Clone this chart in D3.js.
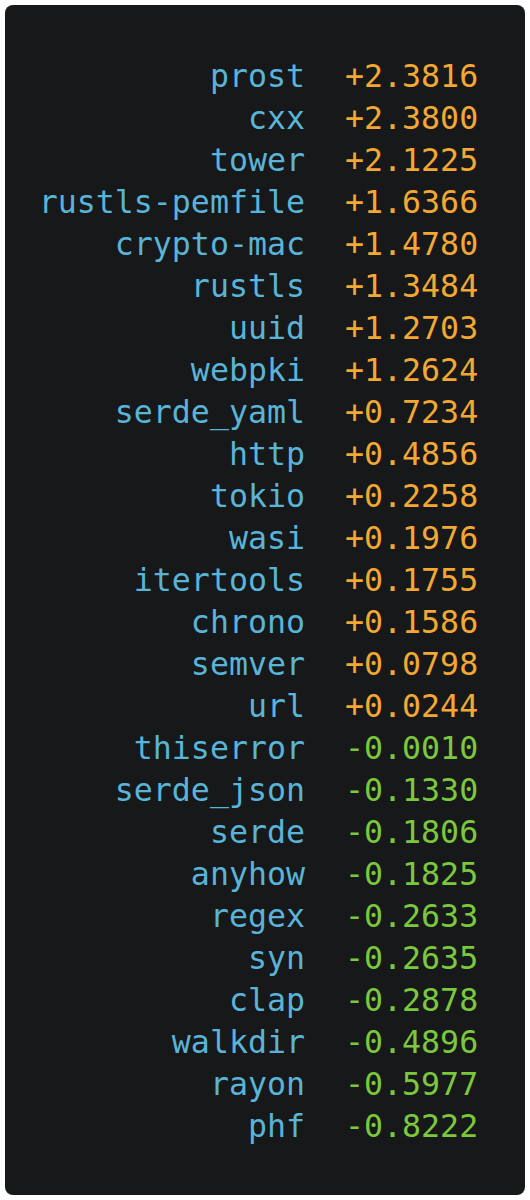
<!DOCTYPE html>
<html>
<head>
<meta charset="utf-8">
<script src="https://cdn.jsdelivr.net/npm/d3@7"></script>
<style>
  body { margin: 0; background: #ffffff; }
</style>
</head>
<body>
<div id="chart"></div>
<script>
// crate names and their score changes, top to bottom
var crates = ["prost", "cxx", "tower", "rustls-pemfile", "crypto-mac", "rustls", "uuid", "webpki",
  "serde_yaml", "http", "tokio", "wasi", "itertools", "chrono", "semver", "url", "thiserror",
  "serde_json", "serde", "anyhow", "regex", "syn", "clap", "walkdir", "rayon", "phf"];
var deltas = ["+2.3816", "+2.3800", "+2.1225", "+1.6366", "+1.4780", "+1.3484", "+1.2703", "+1.2624",
  "+0.7234", "+0.4856", "+0.2258", "+0.1976", "+0.1755", "+0.1586", "+0.0798", "+0.0244", "-0.0010",
  "-0.1330", "-0.1806", "-0.1825", "-0.2633", "-0.2635", "-0.2878", "-0.4896", "-0.5977", "-0.8222"];

var width = 530, height = 1200;
var svg = d3.select("#chart").append("svg")
    .attr("width", width)
    .attr("height", height);

// dark card
svg.append("rect")
    .attr("x", 5).attr("y", 5)
    .attr("width", 520).attr("height", 1190)
    .attr("rx", 8)
    .attr("fill", "#17181a");

// one row per crate
var y = d3.scalePoint()
    .domain(crates)
    .range([87, 87 + 42 * (crates.length - 1)]);

var rows = svg.selectAll(".row").data(crates).enter()
    .append("g")
        .attr("class", "row")
        .attr("transform", function(d){ return "translate(0," + y(d) + ")"; });

rows.append("text")
    .attr("x", 305)
    .attr("text-anchor", "end")
    .attr("font-family", "DejaVu Sans Mono, monospace")
    .attr("font-size", 31.6)
    .attr("fill", "#5ab4d8")
    .text(function(d){ return d; });

rows.append("text")
    .attr("x", 345)
    .attr("font-family", "DejaVu Sans Mono, monospace")
    .attr("font-size", 31.6)
    .attr("fill", function(d, i){ return deltas[i][0] === "+" ? "#f2a833" : "#7cc83c"; })
    .text(function(d, i){ return deltas[i]; });
</script>
</body>
</html>
